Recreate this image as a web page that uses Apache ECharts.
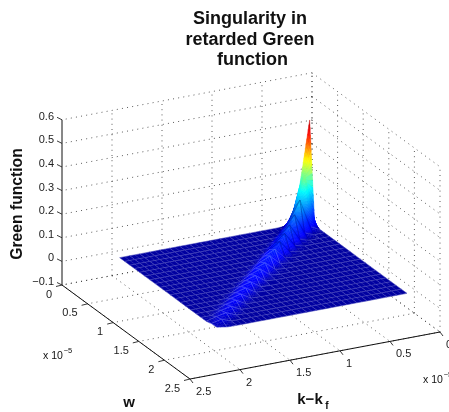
<!DOCTYPE html>
<html><head><meta charset="utf-8">
<style>html,body{margin:0;padding:0;background:#fff}#c{width:449px;height:412px}</style>
<script src="https://cdn.jsdelivr.net/npm/echarts@6/dist/echarts.min.js"></script>
</head><body><div id="c"></div>
<script>
// values in units of 1e-5 on both horizontal axes
const kGrid = [0.1,0.2,0.3,0.4,0.5,0.6,0.7,0.8,0.9,1.0,1.1,1.2,1.3,1.4,1.5,1.6,1.7,1.8,1.9,2.0];
const wGrid = [0.15,0.25,0.35,0.44,0.54,0.64,0.74,0.84,0.94,1.04,1.14,1.24,1.34,1.44,1.54,1.64,1.74,1.84,1.94,2.05];
// surface height on the ridge, and one cell to either side of it
const ridgeHeights = [0.432,0.22,0.14,0.1,0.08,0.068,0.058,0.05,0.045,0.04,0.037,0.034,0.031,0.029,0.027,0.025,0.023,0.02,0.016,0.008];
const shoulderLowW = [0.16,0.095,0.065,0.05,0.043,0.037,0.033,0.03,0.027,0.025,0.023,0.021,0.02,0.018,0.017,0.016,0.014,0.011,0.006];
const shoulderHighW = [0,0.02,0.015,0.012,0.01,0.008,0.006,0.005,0.004,0.004,0.003,0.003,0.003,0.002,0.002,0.002,0.002,0.001,0.001];
const kTicks = [0,0.5,1,1.5,2,2.5];
const wTicks = [0,0.5,1,1.5,2,2.5];
const zTicks = [-0.1,0,0.1,0.2,0.3,0.4,0.5,0.6];
const kLabels = ['0','0.5','1','1.5','2','2.5'];
const wLabels = ['0','0.5','1','1.5','2','2.5'];
const zLabels = ['\u22120.1','0','0.1','0.2','0.3','0.4','0.5','0.6'];

const K_MAX = 2.5, W_MAX = 2.5, Z_MIN = -0.1, Z_MAX = 0.6;
function project(k, w, z) {
  return [312 - 100 * k + 51.2 * w, 238 + 18.8 * k + 37.6 * w - 236 * (z - Z_MIN)];
}
function height(i, j) {
  if (i === j) return ridgeHeights[i];
  if (i === j + 1) return shoulderLowW[j];
  if (j === i + 1) return shoulderHighW[i];
  return 0;
}
const JET = [[0,0,0,160],[0.05,0,0,255],[0.12,0,40,255],[0.36,0,255,255],[0.61,255,255,0],[0.86,255,0,0],[1,160,0,0]];
function jet(z) {
  const t = Math.max(0, Math.min(1, z / 0.432));
  for (let n = 1; n < JET.length; n++) {
    if (t <= JET[n][0]) {
      const a = JET[n-1], b = JET[n], f = (t - a[0]) / (b[0] - a[0]);
      return 'rgb(' + [1,2,3].map(c => Math.round(a[c] + (b[c]-a[c]) * f)).join(',') + ')';
    }
  }
  return 'rgb(160,0,0)';
}
const faces = [];
for (let s = 0; s <= (kGrid.length - 1) + (wGrid.length - 1) - 2; s++) {
  for (let i = 0; i < kGrid.length - 1; i++) {
    const j = s - i;
    if (j >= 0 && j < wGrid.length - 1) faces.push([i, j]);
  }
}
function renderFace(params) {
  const [i, j] = faces[params.dataIndex];
  const k0 = kGrid[i], k1 = kGrid[i+1], w0 = wGrid[j], w1 = wGrid[j+1];
  const z00 = height(i,j), z10 = height(i+1,j), z01 = height(i,j+1), z11 = height(i+1,j+1);
  const zr = Math.max(z00,z10,z01,z11) - Math.min(z00,z10,z01,z11);
  const n = zr > 0.003 ? Math.min(14, Math.ceil(zr / 0.012) + 1) : 1;
  const children = [];
  const P = (u, v) => {
    const z = z00*(1-u)*(1-v) + z10*u*(1-v) + z01*(1-u)*v + z11*u*v;
    return { p: project(k0 + (k1-k0)*u, w0 + (w1-w0)*v, z), z };
  };
  for (let a = 0; a < n; a++) for (let b = 0; b < n; b++) {
    const q = [P(a/n,b/n), P((a+1)/n,b/n), P((a+1)/n,(b+1)/n), P(a/n,(b+1)/n)];
    const c = jet((q[0].z+q[1].z+q[2].z+q[3].z)/4);
    children.push({ type:'polygon', shape:{ points:q.map(o=>o.p) }, style:{ fill:c, stroke:c, lineWidth:0.4 } });
  }
  const top = Math.max(z00,z10,z01,z11);
  const mesh = zr < 0.003 ? 'rgba(205,205,240,0.32)' : (top > 0.14 ? 'rgba(0,0,120,0)' : (top > 0.05 ? 'rgba(0,0,120,0.55)' : 'rgba(205,215,255,0.4)'));
  children.push({ type:'polygon', shape:{ points:[P(0,0).p,P(1,0).p,P(1,1).p,P(0,1).p] },
    style:{ fill:'none', stroke:mesh, lineWidth:0.55 } });
  if (zr < 0.003) {
    const a = P(0.5,0).p, b = P(0.5,1).p;
    children.push({ type:'line', shape:{x1:a[0],y1:a[1],x2:b[0],y2:b[1]}, style:{ stroke:mesh, lineWidth:0.55 } });
  }
  return { type:'group', children };
}
// dotted grid segments, given in data space
const gridSegs = [];
kTicks.forEach(k => {
  gridSegs.push([k,0,Z_MIN,k,W_MAX,Z_MIN]);
  if (k < K_MAX) gridSegs.push([k,0,Z_MIN,k,0,Z_MAX]);
});
wTicks.forEach(w => {
  gridSegs.push([0,w,Z_MIN,K_MAX,w,Z_MIN]);
  gridSegs.push([0,w,Z_MIN,0,w,Z_MAX]);
});
zTicks.forEach(z => {
  gridSegs.push([0,0,z,K_MAX,0,z]);
  gridSegs.push([0,0,z,0,W_MAX,z]);
});
const axisSegs = [[0,W_MAX,Z_MIN,K_MAX,W_MAX,Z_MIN],[K_MAX,0,Z_MIN,K_MAX,W_MAX,Z_MIN],[K_MAX,0,Z_MIN,K_MAX,0,Z_MAX]];
function seg(s, style) {
  const a = project(s[0],s[1],s[2]), b = project(s[3],s[4],s[5]);
  return { type:'line', shape:{x1:a[0],y1:a[1],x2:b[0],y2:b[1]}, style };
}
const FONT = 'Liberation Sans, Arial, Helvetica, sans-serif';
const tickItems = [];
kTicks.forEach((k,n) => tickItems.push({ at:[k,W_MAX,Z_MIN], tick:[3,4], label:kLabels[n], off:[6,13], align:'left' }));
wTicks.forEach((w,n) => tickItems.push({ at:[K_MAX,w,Z_MIN], tick:[-6,1.5], label:wLabels[n], off:[-10,9.5], align:'right' }));
zTicks.forEach((z,n) => tickItems.push({ at:[K_MAX,0,z], tick:[-5,-2.5], label:zLabels[n], off:[-8,-3], align:'right' }));
function renderTick(params) {
  const t = tickItems[params.dataIndex];
  const p = project(t.at[0], t.at[1], t.at[2]);
  return { type:'group', children:[
    { type:'line', shape:{x1:p[0],y1:p[1],x2:p[0]+t.tick[0],y2:p[1]+t.tick[1]}, style:{ stroke:'#222', lineWidth:0.9 } },
    { type:'text', x:p[0]+t.off[0], y:p[1]+t.off[1], style:{ text:t.label, fill:'#222', font:'11px '+FONT, textAlign:t.align, textVerticalAlign:'middle' } }
  ]};
}
function txt(x,y,text,size,bold,extra) {
  return Object.assign({ type:'text', x, y, silent:true,
    style:{ text, fill:'#111', font:(bold?'bold ':'')+size+'px '+FONT, textAlign:'center', textVerticalAlign:'middle' } }, extra||{});
}
const chart = echarts.init(document.getElementById('c'), null, {renderer:'canvas'});
chart.setOption({
  animation:false,
  backgroundColor:'#fff',
  title:{ text:'Singularity in\nretarded Green\n function', left:245, top:4, textAlign:'center',
    textStyle:{ fontFamily:FONT, fontSize:18, fontWeight:'bold', color:'#111', lineHeight:20.5 } },
  graphic:[
    txt(18,204,'Green function',15.7,true,{ rotation:Math.PI/2 }),
    txt(129,403,'w',15,true),
    txt(310,400,'k\u2212k',15,true),
    txt(327,406,'f',10,true),
    txt(53,356,'x 10',10.5,false),
    txt(68,351,'\u22125',7.5,false),
    txt(433,380,'x 10',10.5,false),
    txt(448,375,'\u22125',7.5,false)
  ],
  series:[
    { type:'custom', coordinateSystem:'none', silent:true, clip:false, z:1,
      data:gridSegs.map((s,n)=>n),
      renderItem:(p)=>seg(gridSegs[p.dataIndex],{ stroke:'#333', lineWidth:0.8, lineDash:[1,4.2] }) },
    { type:'custom', coordinateSystem:'none', silent:true, clip:false, z:2,
      data:axisSegs.map((s,n)=>n),
      renderItem:(p)=>seg(axisSegs[p.dataIndex],{ stroke:'#111', lineWidth:1 }) },
    { type:'custom', coordinateSystem:'none', silent:true, clip:false, z:3,
      data:tickItems.map((s,n)=>n), renderItem:renderTick },
    { type:'custom', coordinateSystem:'none', silent:true, clip:false, z:4,
      data:faces.map((s,n)=>n), renderItem:renderFace }
  ]
});
</script></body></html>
